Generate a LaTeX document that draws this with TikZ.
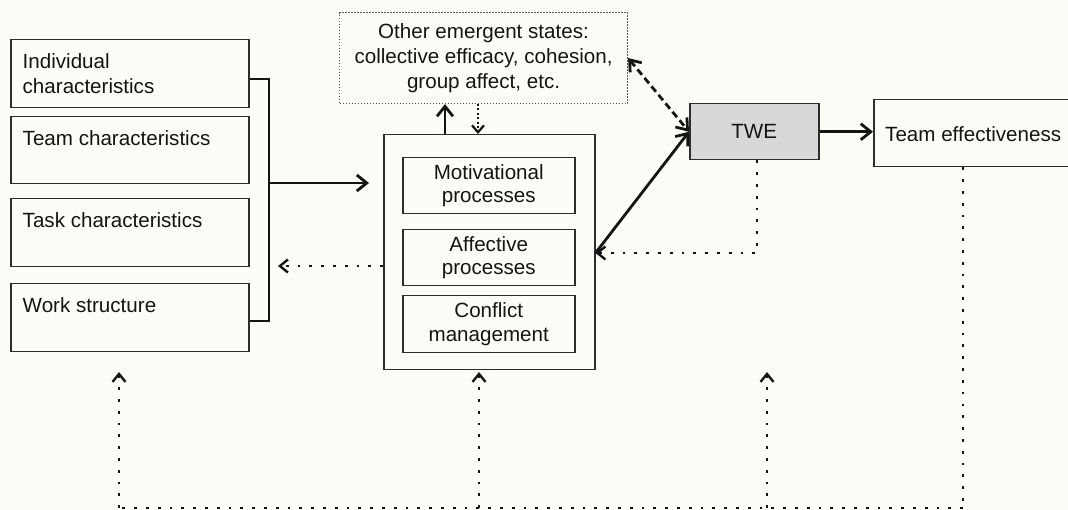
\documentclass[tikz,border=0pt]{standalone}
\usepackage{fontspec}
\setmainfont{Liberation Sans}
\usetikzlibrary{arrows.meta}
\definecolor{bg}{RGB}{253,253,248}
\definecolor{edge}{RGB}{45,45,45}
\definecolor{ink}{RGB}{20,20,20}
\definecolor{twefill}{RGB}{216,216,216}
\begin{document}
\begin{tikzpicture}[x=1pt,y=-1pt,
  font=\fontsize{20.6}{25}\selectfont,
  box/.style={draw=edge, line width=1.5pt, fill=bg, inner sep=0pt, anchor=north west},
  ebox/.style={draw=edge!80, line width=1.1pt, dash pattern=on 1.6pt off 1.4pt, fill=bg,
               inner sep=0pt, anchor=north west, align=center},
  txt/.style={inner sep=0pt, align=left, text=ink},
  arr/.style={draw=ink, line width=2.8pt, -{Straight Barb[length=10pt,width=16pt]}},
  link/.style={draw=ink, line width=2.8pt},
  dotline/.style={draw=ink, line width=2.6pt, dash pattern=on 2.8pt off 9pt},
  dotarr/.style={dotline, -{Straight Barb[length=8pt,width=13pt,line width=2.4pt]}},
  finedot/.style={draw=ink, line width=2.2pt, dash pattern=on 2pt off 2.4pt,
                  -{Straight Barb[length=7pt,width=12pt,line width=2.2pt]}},
  dasharr/.style={draw=ink, line width=2.8pt, dash pattern=on 7pt off 4pt,
                  {Straight Barb[length=10pt,width=15pt]}-{Straight Barb[length=10pt,width=15pt]}}
]
\clip (0,0) rectangle (1068,510);
\fill[bg] (0,0) rectangle (1068,510);

% input boxes on the left
\node[box, minimum width=238pt, minimum height=68pt] (ind) at (10,39) {};
\node[txt, anchor=north west] (indT) at ([xshift=12.5pt,yshift=-14pt]ind.north west) {Individual\\characteristics};
\node[box, minimum width=238pt, minimum height=67pt] (team) at (10,116) {};
\node[txt, anchor=north west] (teamT) at ([xshift=12.5pt,yshift=-14pt]team.north west) {Team characteristics};
\node[box, minimum width=238pt, minimum height=68pt] (task) at (10,198) {};
\node[txt, anchor=north west] (taskT) at ([xshift=12.5pt,yshift=-14pt]task.north west) {Task characteristics};
\node[box, minimum width=238pt, minimum height=68pt] (ws) at (10,283) {};
\node[txt, anchor=north west] (wsT) at ([xshift=12.5pt,yshift=-14pt]ws.north west) {Work structure};

% emergent states
\node[ebox, minimum width=288pt, minimum height=91pt, text=ink] (emer) at (339,12)
  {Other emergent states:\\collective efficacy, cohesion,\\group affect, etc.};

% processes block
\node[box, minimum width=211pt, minimum height=235pt] (cen) at (383,134) {};
\node[box, minimum width=172pt, minimum height=56pt, align=center, text=ink,
      font=\fontsize{20.6}{23.5}\selectfont] (mot) at (402,157) {Motivational\\processes};
\node[box, minimum width=172pt, minimum height=56pt, align=center, text=ink,
      font=\fontsize{20.6}{23.5}\selectfont] (aff) at (402,229) {Affective\\processes};
\node[box, minimum width=172pt, minimum height=57pt, align=center, text=ink,
      font=\fontsize{20.6}{23.5}\selectfont] (con) at (402,295) {Conflict\\management};

% TWE and outcome
\node[box, fill=twefill, minimum width=129pt, minimum height=56pt, text=ink] (twe) at (689,103) {TWE};
\node[box, minimum width=210pt, minimum height=67pt] (te) at (873,99) {};
\node[txt, anchor=west] (teT) at ([xshift=12pt,yshift=-1pt]te.west) {Team effectiveness};

% helper coordinates
\coordinate (brt) at (269,79);
\coordinate (brb) at (269,321);
\coordinate (mid) at (269,183);
\coordinate (fbl) at (278,266);
\coordinate (upx) at (445,0);
\coordinate (dnx) at (478,0);
\coordinate (y253) at (0,253);
\coordinate (twx) at (757,0);
\coordinate (fbx) at (963,0);
\coordinate (b1) at (119,508);
\coordinate (b2) at (479,508);
\coordinate (b3) at (767,508);
\coordinate (bR) at (963,508);
\coordinate (t1) at (119,372);
\coordinate (t2) at (479,372);
\coordinate (t3) at (767,372);

% bracket joining the inputs
\draw[link] (ind.east |- brt) -- (brt) -- (brb) -- (ws.east |- brb);
\draw[arr, shorten >=14pt] (mid) -- (cen.west |- mid);
\draw[dotarr] (cen.west |- fbl) -- (fbl);

% links with emergent states
\draw[arr] (cen.north -| upx) -- (emer.south -| upx);
\draw[finedot] (emer.south -| dnx) -- (cen.north -| dnx);
\draw[dasharr] (emer.east) -- (twe.west);

% processes to TWE to effectiveness
\draw[arr] (cen.east |- y253) -- (twe.west);
\draw[dotarr] (twe.south -| twx) |- (cen.east |- y253);
\draw[arr] (twe.east) -- (te.west |- twe.east);

% feedback loop along the bottom
\draw[dotline] (te.south -| fbx) -- (bR);
\draw[dotline] (bR) -- (b1);
\draw[dotarr] (b1) -- (t1);
\draw[dotarr] (b2) -- (t2);
\draw[dotarr] (b3) -- (t3);
\end{tikzpicture}
\end{document}
